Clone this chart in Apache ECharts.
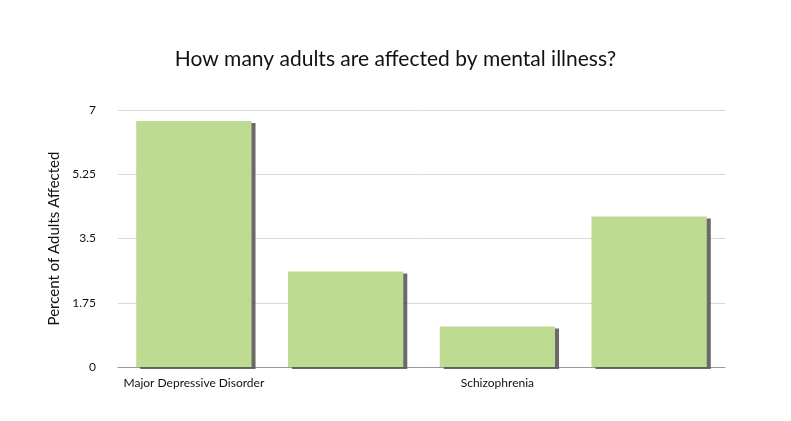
<!DOCTYPE html>
<html>
<head>
<meta charset="utf-8">
<script src="https://cdn.jsdelivr.net/npm/echarts@6/dist/echarts.min.js"></script>
<style>html,body{margin:0;padding:0;background:#fff}#chart{width:791px;height:421px}</style>
</head>
<body>
<div id="chart"></div>
<script>
var categories = ['Major Depressive Disorder', 'Bipolar Disorder', 'Schizophrenia', 'ADHD'];
var values = [6.7, 2.6, 1.1, 4.1];
var tickLabels = ['0', '1.75', '3.5', '5.25', '7'];

var myChart = echarts.init(document.getElementById('chart'));
var option = {
	textStyle: {fontFamily: 'Lato'},
	title: {
		text: 'How many adults are affected by mental illness?',
		left: 'center',
		top: 44,
		textStyle: {fontSize: 21, fontWeight: 'normal', color: '#111', fontFamily: 'Lato'}
	},
	grid: {left: 118, right: 66, top: 110, bottom: 54},
	xAxis: {
		type: 'category',
		data: categories,
		axisTick: {show: false},
		axisLine: {lineStyle: {color: '#999'}},
		axisLabel: {color: '#111', fontSize: 12, margin: 10}
	},
	yAxis: {
		type: 'value',
		min: 0,
		max: 7,
		interval: 1.75,
		name: 'Percent of Adults Affected',
		nameLocation: 'middle',
		nameGap: 52,
		nameTextStyle: {fontSize: 15, color: '#111'},
		axisLabel: {
			color: '#111', fontSize: 12, margin: 22,
			formatter: function(v){ return tickLabels[Math.round(v / 1.75)]; }
		},
		splitLine: {lineStyle: {color: '#d8d8d8'}}
	},
	series: [{
		type: 'bar',
		data: values,
		barWidth: '76%',
		itemStyle: {
			color: '#bddc91',
			shadowColor: 'rgba(90,90,90,0.9)',
			shadowBlur: 0,
			shadowOffsetX: 4,
			shadowOffsetY: 2
		}
	}]
};
myChart.setOption(option);
</script>
</body>
</html>
